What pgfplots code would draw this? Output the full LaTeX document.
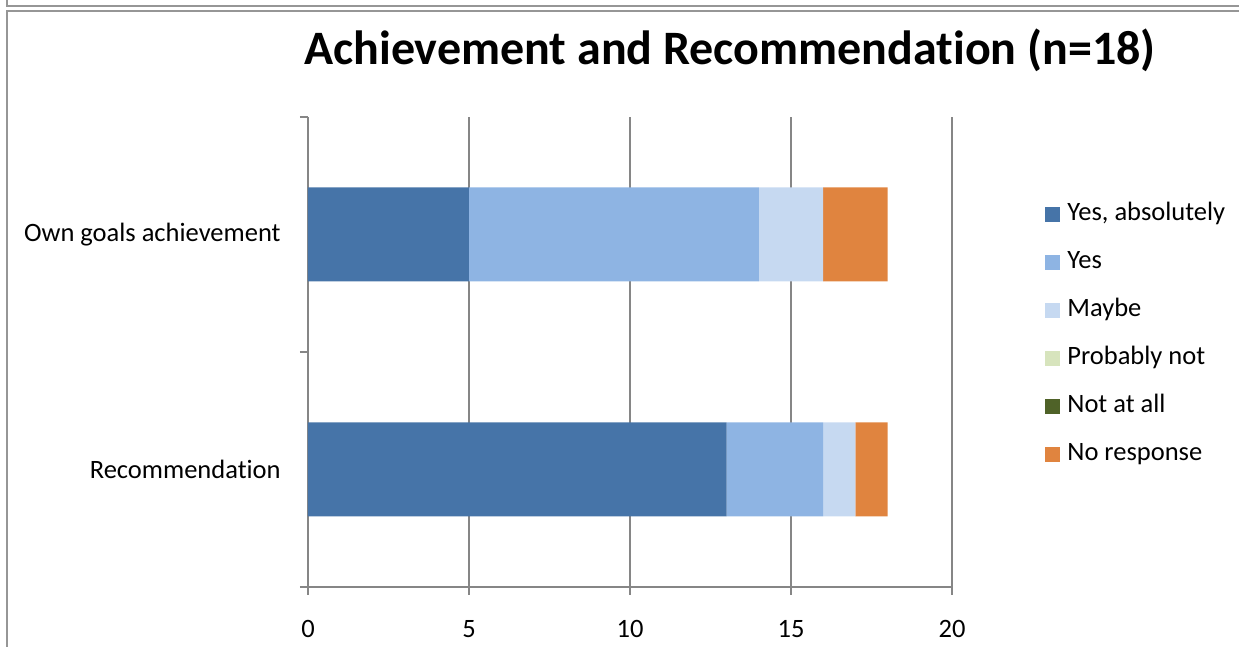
\documentclass[border=0pt]{standalone}
\usepackage{fontspec}
\setmainfont[Ligatures=NoCommon]{Carlito}
\usepackage{pgfplots}
\pgfplotsset{compat=1.18}
\definecolor{cA}{RGB}{70,116,168}
\definecolor{cB}{RGB}{142,180,227}
\definecolor{cC}{RGB}{198,217,241}
\definecolor{cD}{RGB}{215,228,189}
\definecolor{cE}{RGB}{79,98,40}
\definecolor{cF}{RGB}{224,132,63}
\definecolor{axgray}{RGB}{134,134,134}
\definecolor{frgray}{RGB}{150,150,150}
\begin{document}
\begin{tikzpicture}
\path[use as bounding box] (0,0) rectangle (619.5pt,323.5pt);
% frame lines
\draw[frgray,line width=1pt] (3.5pt,323.5pt) -- (3.5pt,320.5pt) -- (619.5pt,320.5pt);
\draw[frgray,line width=1pt] (3.5pt,0pt) -- (3.5pt,318pt) -- (619.5pt,318pt);
\node[anchor=base,inner sep=0pt,font=\fontsize{24}{29}\selectfont\bfseries] at (365pt,291pt) {Achievement and Recommendation (n=18)};
\begin{axis}[
  at={(154pt,30pt)}, anchor=south west,
  scale only axis, width=322pt, height=235pt,
  xbar stacked, bar width=47pt,
  xmin=0, xmax=20, ymin=-0.5, ymax=1.5,
  axis x line*=bottom, axis y line*=left,
  axis line style={axgray,line width=0.6pt},
  xtick={0,5,10,15,20},
  ytick={0,1}, yticklabels={Recommendation,Own goals achievement},
  minor ytick={-0.5,0.5,1.5},
  tick align=outside,
  major tick length=4pt, minor tick length=4pt,
  every major y tick/.append style={draw=none},
  tick style={axgray,line width=0.6pt},
  xmajorgrids, grid style={axgray,line width=0.6pt},
  /pgf/number format/assume math mode=true,
  ticklabel style={font=\fontsize{13.25}{15}\selectfont},
  yticklabel style={inner sep=0pt, xshift=-9.5pt},
  xticklabel style={inner sep=0pt, yshift=-12.5pt},
  legend style={draw=none, fill=none, at={(1.1444,0.5362)}, anchor=west, inner sep=0pt,
    font=\fontsize{13.25}{15}\selectfont,
    nodes={inner sep=0pt, text height=9pt, text depth=3pt, anchor=west},
    row sep=12pt,
    /tikz/every odd column/.append style={column sep=3.5pt}},
  legend cell align=left,
  legend image code/.code={\fill[#1] (0pt,-3.75pt) rectangle (7.5pt,3.75pt);},
]
\addplot[fill=cA,draw=none] coordinates {(13,0) (5,1)};
\addplot[fill=cB,draw=none] coordinates {(3,0) (9,1)};
\addplot[fill=cC,draw=none] coordinates {(1,0) (2,1)};
\addplot[fill=cD,draw=none] coordinates {(0,0) (0,1)};
\addplot[fill=cE,draw=none] coordinates {(0,0) (0,1)};
\addplot[fill=cF,draw=none] coordinates {(1,0) (2,1)};
\legend{{Yes, absolutely},Yes,Maybe,Probably not,Not at all,No response}
\end{axis}
\end{tikzpicture}
\end{document}
